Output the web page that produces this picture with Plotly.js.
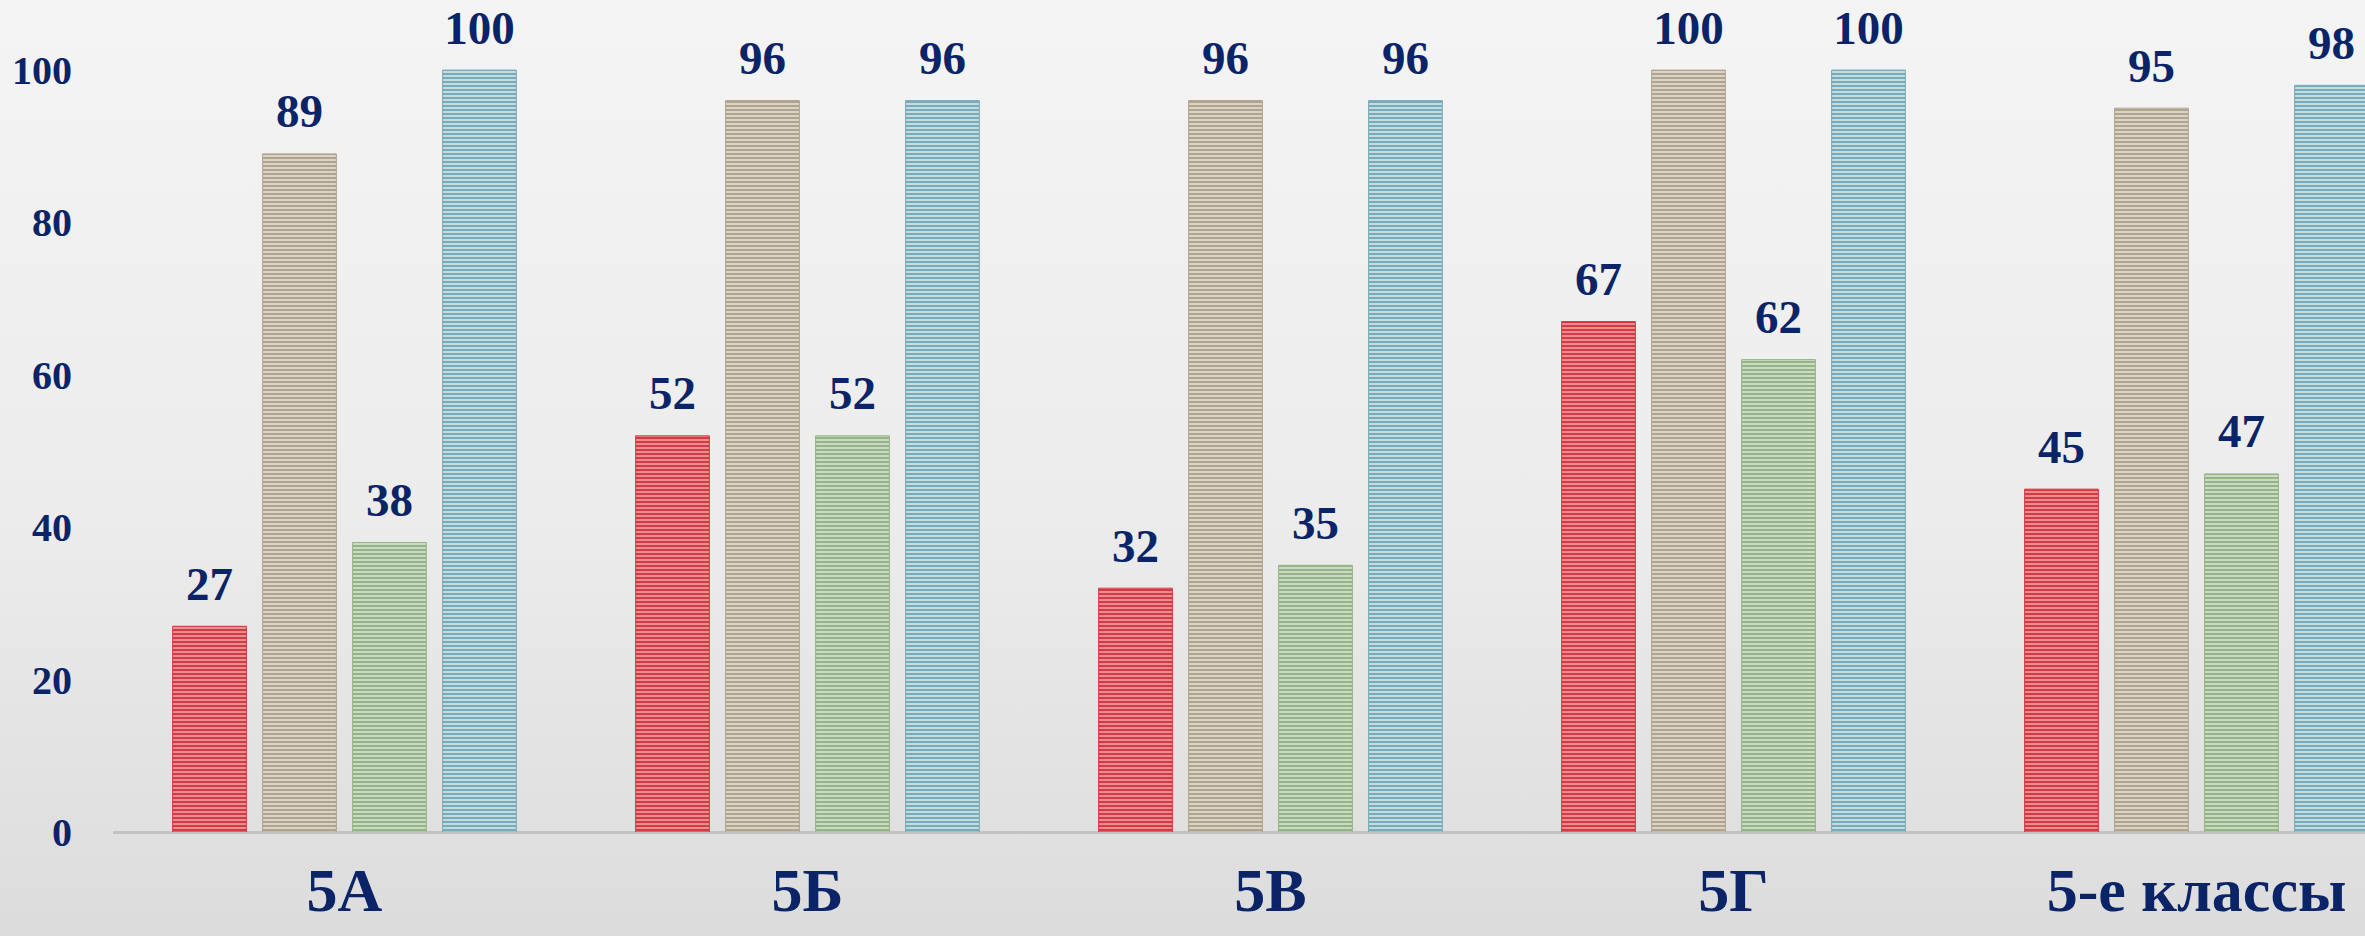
<!DOCTYPE html>
<html>
<head>
<meta charset="utf-8">
<script src="https://cdn.plot.ly/plotly-3.0.1.min.js"></script>
<style>
html,body{margin:0;padding:0;}
body{width:2365px;height:936px;background:linear-gradient(to bottom,#f4f4f4 0%,#ececec 55%,#dcdcdc 100%);overflow:hidden;}
#chart{width:2365px;height:936px;}
</style>
</head>
<body>
<div id="chart"></div>
<script>
const categories = ['5А', '5Б', '5В', '5Г', '5-е классы'];
const series1 = [27, 52, 32, 67, 45];
const series2 = [89, 96, 96, 100, 95];
const series3 = [38, 52, 35, 62, 47];
const series4 = [100, 96, 96, 100, 98];
const yTicks = [0, 20, 40, 60, 80, 100];

const seriesList = [series1, series2, series3, series4];
const darkCols = ['#d33a44', '#b0a48e', '#95b388', '#78abb7'];
const lightCols = ['#f09698', '#e0d9cc', '#d0e0c8', '#cce2e7'];
const navy = '#0b2468';
const serif = '"Liberation Serif", "Times New Roman", serif';

const traces = [];
seriesList.forEach((vals, i) => {
  traces.push({
    type: 'bar',
    x: categories,
    y: vals,
    marker: {
      color: lightCols[i],
      line: {width: 1, color: darkCols[i]},
      pattern: {shape: '-', size: 4, solidity: 0.55, fgcolor: darkCols[i], bgcolor: lightCols[i], fillmode: 'replace'}
    },
    hoverinfo: 'skip',
    showlegend: false
  });
});
seriesList.forEach((vals, i) => {
  traces.push({
    type: 'scatter',
    mode: 'markers+text',
    x: categories,
    y: vals,
    text: vals.map(String),
    textposition: 'top center',
    textfont: {family: serif, size: 47, color: navy, weight: 'bold'},
    marker: {size: 22, opacity: 0},
    cliponaxis: false,
    hoverinfo: 'skip',
    showlegend: false
  });
});

const layout = {
  width: 2365,
  height: 936,
  margin: {l: 113, r: 0, t: 32, b: 104},
  paper_bgcolor: 'rgba(0,0,0,0)',
  plot_bgcolor: 'rgba(0,0,0,0)',
  barmode: 'group',
  scattermode: 'group',
  bargap: 0.2225,
  scattergap: 0.2225,
  bargroupgap: 0.18,
  xaxis: {
    range: [-0.5, -0.5 + 2252 / 463],
    showgrid: false,
    zeroline: false,
    showline: false,
    ticks: '',
    ticklabelstandoff: 16,
    tickfont: {family: serif, size: 62, color: navy, weight: 'bold'},
    fixedrange: true
  },
  yaxis: {
    range: [0, 105],
    tickvals: yTicks,
    ticktext: yTicks.map(String),
    showgrid: false,
    zeroline: true,
    zerolinecolor: '#c2c2c2',
    zerolinewidth: 3,
    showline: false,
    ticks: '',
    ticklabelstandoff: 40,
    tickfont: {family: serif, size: 40, color: navy, weight: 'bold'},
    fixedrange: true
  },
  showlegend: false
};

Plotly.newPlot('chart', traces, layout, {displayModeBar: false, staticPlot: true});
</script>
</body>
</html>
